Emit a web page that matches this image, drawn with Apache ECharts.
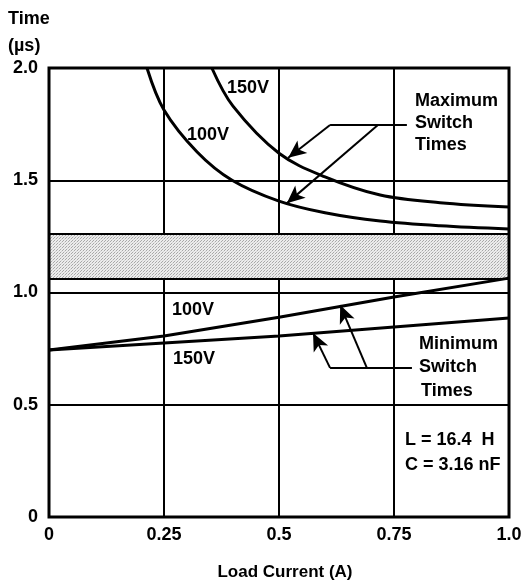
<!DOCTYPE html>
<html>
<head>
<meta charset="utf-8">
<script src="https://cdn.jsdelivr.net/npm/echarts@6/dist/echarts.min.js"></script>
<style>
html,body{margin:0;padding:0;background:#fff;}
#c{width:525px;height:580px;}
</style>
</head>
<body>
<div id="c"></div>
<script>
// ---- data ----
const xTickLabels = ['0', '0.25', '0.5', '0.75', '1.0'];
const yTickLabels = ['0', '0.5', '1.0', '1.5', '2.0'];

const max100X = [0.213, 0.25, 0.322, 0.398, 0.5, 0.6, 0.72, 0.85, 1.0];
const max100Y = [2.0, 1.813, 1.626, 1.5, 1.407, 1.355, 1.318, 1.297, 1.283];
const max150X = [0.354, 0.4, 0.5, 0.6, 0.72, 0.85, 1.0];
const max150Y = [2.0, 1.83, 1.62, 1.515, 1.434, 1.40, 1.381];

const min100X = [0, 0.25, 0.5, 0.75, 1.0];
const min100Y = [0.744, 0.806, 0.89, 0.98, 1.064];
const min150X = [0, 0.25, 0.5, 0.75, 1.0];
const min150Y = [0.744, 0.775, 0.806, 0.846, 0.886];

const bandLow = 1.056;
const bandHigh = 1.265;

// arrow annotations (data coords)
const maxLeader = [[0.611, 1.746], [0.778, 1.746]];
const maxArrow150 = [[0.611, 1.746], [0.52, 1.60]];
const maxArrow100 = [[0.715, 1.746], [0.517, 1.397]];
const minLeader = [[0.611, 0.664], [0.789, 0.664]];
const minArrow150 = [[0.611, 0.664], [0.574, 0.82]];
const minArrow100 = [[0.691, 0.664], [0.633, 0.944]];

const zip = (xs, ys) => xs.map((x, i) => [x, ys[i]]);

// halftone-like pattern for band
const pc = document.createElement('canvas');
pc.width = 3; pc.height = 3;
const pctx = pc.getContext('2d');
pctx.fillStyle = '#ececec';
pctx.fillRect(0, 0, 3, 3);
pctx.fillStyle = '#a8a8a8';
pctx.fillRect(0, 0, 1, 1);
pctx.fillRect(2, 1, 1, 1);
pctx.fillStyle = '#d0d0d0';
pctx.fillRect(1, 2, 1, 1);

const FONT = "'Liberation Sans', Arial, Helvetica, sans-serif";
const chart = echarts.init(document.getElementById('c'), null, {renderer: 'canvas'});

const curveStyle = {color: '#000', width: 3};
function lineSeries(data, smooth) {
  return {
    type: 'line', data: data, smooth: smooth ? 0.35 : false,
    showSymbol: false, symbol: 'none', lineStyle: curveStyle, silent: true, z: 5,
    clip: true
  };
}
function seg(p, arrow) {
  return [{coord: p[0], symbol: 'none'}, {coord: p[1], symbol: arrow ? 'arrow' : 'none'}];
}

function txt(text, x, y, size) {
  return {
    type: 'text', x: x, y: y, z: 20,
    style: {text: text, fill: '#000', font: 'bold ' + (size || 18) + 'px ' + FONT,
            align: 'left', verticalAlign: 'middle'}
  };
}

const option = {
  animation: false,
  backgroundColor: '#fff',
  grid: {left: 49, right: 16, top: 68, bottom: 63, show: true,
         borderColor: '#000', borderWidth: 3, backgroundColor: 'transparent', z: 10},
  xAxis: {
    type: 'value', min: 0, max: 1, interval: 0.25,
    axisLine: {show: false}, axisTick: {show: false},
    splitLine: {show: true, lineStyle: {color: '#000', width: 2}},
    axisLabel: {color: '#000', fontWeight: 'bold', fontSize: 18, fontFamily: FONT, margin: 9,
      formatter: v => xTickLabels[Math.round(v / 0.25)]}
  },
  yAxis: {
    type: 'value', min: 0, max: 2, interval: 0.5,
    axisLine: {show: false}, axisTick: {show: false},
    splitLine: {show: true, lineStyle: {color: '#000', width: 2}},
    axisLabel: {color: '#000', fontWeight: 'bold', fontSize: 18, fontFamily: FONT, margin: 11,
      formatter: v => yTickLabels[Math.round(v / 0.5)]}
  },
  series: [
    {
      type: 'line', data: [], silent: true,
      markArea: {silent: true, itemStyle: {color: {image: pc, repeat: 'repeat'}},
        data: [[{xAxis: 0, yAxis: bandLow}, {xAxis: 1, yAxis: bandHigh}]]},
      markLine: {silent: true, symbol: 'none', label: {show: false},
        lineStyle: {color: '#000', width: 2, type: 'solid'},
        data: [{yAxis: bandLow}, {yAxis: bandHigh}]}
    },
    lineSeries(zip(max100X, max100Y), true),
    lineSeries(zip(max150X, max150Y), true),
    lineSeries(zip(min100X, min100Y), false),
    lineSeries(zip(min150X, min150Y), false),
    {
      type: 'line', data: [], silent: true,
      markLine: {silent: true, symbolSize: [12, 18], label: {show: false}, animation: false,
        lineStyle: {color: '#000', width: 2, type: 'solid'},
        data: [seg(maxLeader, false), seg(maxArrow150, true), seg(maxArrow100, true),
               seg(minLeader, false), seg(minArrow150, true), seg(minArrow100, true)]}
    }
  ],
  graphic: [
    txt('Time', 8, 19, 18),
    txt('(\u00b5s)', 8, 46, 18),
    txt('150V', 227, 88),
    txt('100V', 187, 135),
    txt('Maximum', 415, 101),
    txt('Switch', 415, 123),
    txt('Times', 415, 145),
    txt('100V', 172, 310),
    txt('150V', 173, 359),
    txt('Minimum', 419, 344),
    txt('Switch', 419, 367),
    txt('Times', 421, 391),
    txt('L = 16.4  H', 405, 440),
    txt('C = 3.16 nF', 405, 465),
    {type: 'text', x: 285, y: 572, z: 20,
     style: {text: 'Load Current (A)', fill: '#000', font: 'bold 17px ' + FONT,
             align: 'center', verticalAlign: 'middle'}}
  ]
};
chart.setOption(option);
</script>
</body>
</html>
